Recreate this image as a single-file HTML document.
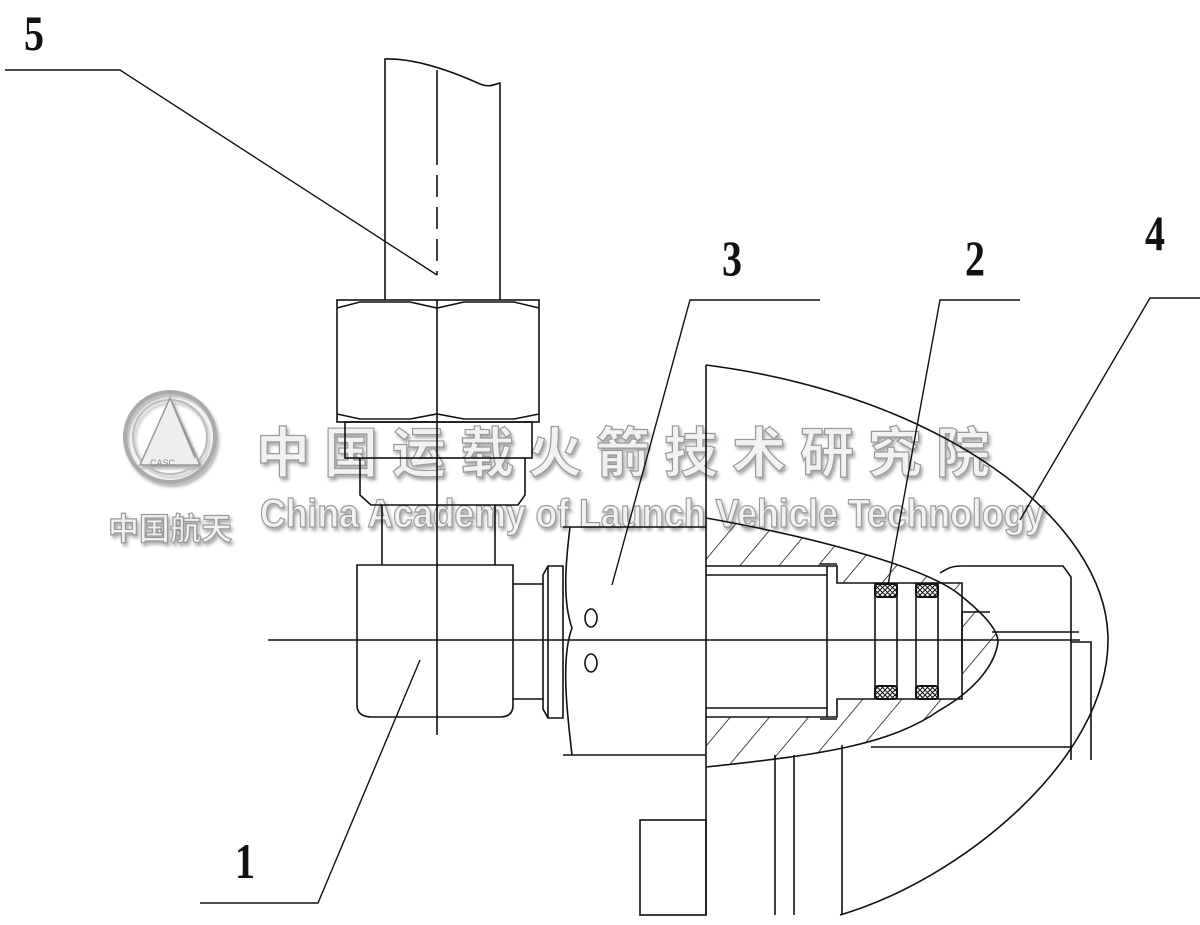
<!DOCTYPE html>
<html><head><meta charset="utf-8"><style>
html,body{margin:0;padding:0;background:#fff;}
svg{display:block;}
.n{font-family:"Liberation Serif",serif;font-weight:bold;font-size:50px;fill:#111;}
.wm{font-family:"Liberation Sans","Noto Sans CJK SC",sans-serif;fill:#f2f2f2;stroke:#999;stroke-width:1.2;font-weight:bold;}
</style></head><body>
<svg width="1200" height="925" viewBox="0 0 1200 925" xmlns="http://www.w3.org/2000/svg">
<defs>
<pattern id="h" patternUnits="userSpaceOnUse" width="30" height="30" patternTransform="rotate(40)">
<line x1="0" y1="0" x2="0" y2="30" stroke="#111" stroke-width="1.5"/>
</pattern>
<pattern id="x" patternUnits="userSpaceOnUse" width="5" height="5">
<rect width="5" height="5" fill="#fff"/>
<path d="M0,0 L5,5 M5,0 L0,5" stroke="#111" stroke-width="1"/>
</pattern>
<filter id="sh"><feDropShadow dx="2" dy="3" stdDeviation="1.5" flood-color="#888" flood-opacity="0.7"/></filter>
<clipPath id="c"><path clip-rule="evenodd" d="M706,518 C830,540 930,570 960,595 C985,615 998,630 998,642 C995,665 975,690 940,710 C890,745 820,755 706,767 Z M706,566 L837,566 L837,583 L962,583 L962,699 L837,699 L837,717 L706,717 Z"/></clipPath>
</defs>
<!-- watermark -->
<g filter="url(#sh)">
<circle cx="170" cy="437" r="45" fill="none" stroke="#aaa" stroke-width="4"/>
<circle cx="170" cy="437" r="37" fill="none" stroke="#bbb" stroke-width="2"/>
<path d="M170,398 L140,465 L200,465 Z M170,398 L195,458" fill="#eee" stroke="#999" stroke-width="1.5"/>
<text x="150" y="466" font-family="Liberation Sans" font-size="9" fill="#888">CASC</text>
<text class="wm" x="108" y="540" font-size="31">中国航天</text>
<text class="wm" x="256" y="472" font-size="54" letter-spacing="14">中国运载火箭技术研究院</text>
<text class="wm" x="260" y="527" font-size="40" font-weight="normal" textLength="785" lengthAdjust="spacingAndGlyphs">China Academy of Launch Vehicle Technology</text>
</g>
<g fill="none" stroke="#111" stroke-width="1.6">
<!-- pipe -->
<path d="M385,300 L385,59 C420,58 460,75 480,84 C490,88 495,84 500,83 L500,300"/>
<line x1="437" y1="70" x2="437" y2="143"/>
<line x1="437" y1="143" x2="437" y2="275" stroke-dasharray="22,10"/>
<!-- nut -->
<rect x="337" y="300" width="202" height="122"/>
<path d="M337,308 L360,302 L410,302 L437,308 L464,302 L514,302 L539,308"/>
<path d="M337,414 L360,419 L410,419 L437,414 L464,419 L514,419 L539,414"/>
<line x1="437" y1="300" x2="437" y2="735"/>
<rect x="345" y="422" width="187" height="36"/>
<path d="M360,458 L360,495 L371,505 L518,505 L525,495 L525,458"/>
<line x1="382" y1="505" x2="382" y2="565"/><line x1="495" y1="505" x2="495" y2="565"/>
<!-- elbow -->
<path d="M357,565 L513,565 L513,705 Q513,717 500,717 L372,717 Q357,717 357,705 Z"/>
<line x1="268" y1="640" x2="1080" y2="640"/>
<line x1="513" y1="584" x2="543" y2="584"/><line x1="513" y1="699" x2="543" y2="699"/>
<path d="M543,575 L548,566 L563,566 L563,718 L548,718 L543,709 Z"/>
<line x1="548" y1="566" x2="548" y2="718"/>
<!-- part 3 -->
<path d="M563,527 L706,527 M563,755 L706,755"/>
<path d="M570,527 C566,560 562,600 572,628 C560,660 568,720 572,755"/>
<ellipse cx="591" cy="618" rx="6" ry="9"/>
<ellipse cx="591" cy="663" rx="6" ry="9"/>
<!-- wall -->
<line x1="706" y1="365" x2="706" y2="915"/>
<rect x="640" y="820" width="66" height="95"/>
<path d="M706,365 C940,395 1108,520 1108,640 C1108,760 960,880 840,915"/>
<!-- hatched dome -->
<rect x="700" y="510" width="310" height="270" fill="url(#h)" stroke="none" clip-path="url(#c)"/>
<path d="M706,518 C830,540 930,570 960,595 C985,615 998,630 998,642 C995,665 975,690 940,710 C890,745 820,755 706,767"/>
<path d="M706,566 L837,566 L837,583 L962,583 L962,699 L837,699 L837,717 L706,717"/>
<line x1="706" y1="575" x2="827" y2="575"/><line x1="706" y1="708" x2="827" y2="708"/>
<path d="M820,564 L837,564 M827,566 L827,717 M820,719 L837,719"/>
<line x1="875" y1="583" x2="875" y2="699"/><line x1="897" y1="583" x2="897" y2="699"/>
<line x1="916" y1="583" x2="916" y2="699"/><line x1="938" y1="583" x2="938" y2="699"/>
<g fill="url(#x)" stroke-width="2">
<rect x="875" y="584" width="22" height="13" rx="3"/><rect x="916" y="584" width="22" height="13" rx="3"/>
<rect x="875" y="686" width="22" height="13" rx="3"/><rect x="916" y="686" width="22" height="13" rx="3"/>
</g>
<path d="M962,612 L990,612 M962,612 L962,670"/>
<!-- right piece -->
<path d="M940,573 C948,568 952,566 962,566 L1063,566 L1071,577 L1071,760"/>
<line x1="992" y1="632" x2="1079" y2="632"/>
<path d="M1071,642 L1091,642 L1091,760"/>
<line x1="871" y1="747" x2="1071" y2="747"/>
<line x1="775" y1="755" x2="775" y2="915"/><line x1="794" y1="755" x2="794" y2="915"/><line x1="842" y1="745" x2="842" y2="915"/>
<!-- leaders -->
<g stroke-width="1.4">
<path d="M5,70 L120,70 L437,275"/>
<path d="M820,300 L690,300 L612,585"/>
<path d="M1020,300 L940,300 L888,585"/>
<path d="M1200,298 L1150,298 L1020,520"/>
<path d="M200,903 L318,903 L420,660"/>
</g>
</g>
<g class="n">
<text x="24" y="50" transform="translate(24 0) scale(0.8 1) translate(-24 0)">5</text>
<text x="722" y="275" transform="translate(722 0) scale(0.8 1) translate(-722 0)">3</text>
<text x="965" y="275" transform="translate(965 0) scale(0.8 1) translate(-965 0)">2</text>
<text x="1145" y="250" transform="translate(1145 0) scale(0.8 1) translate(-1145 0)">4</text>
<text x="235" y="878" transform="translate(235 0) scale(0.8 1) translate(-235 0)">1</text>
</g>
</svg>
</body></html>
